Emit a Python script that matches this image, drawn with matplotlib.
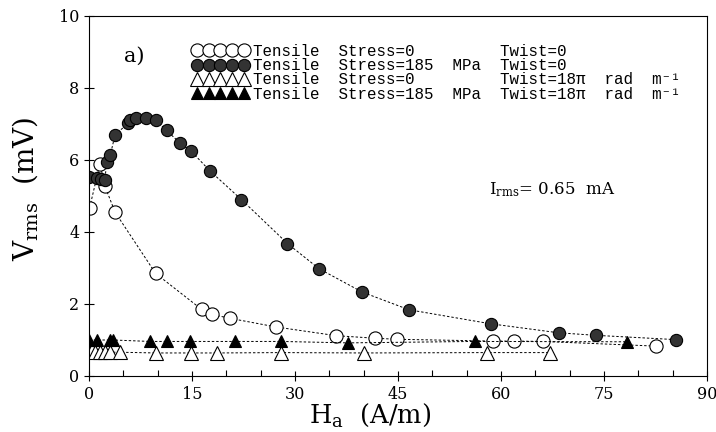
import numpy as np
import matplotlib
matplotlib.use("Agg")
import matplotlib.pyplot as plt
from matplotlib.lines import Line2D
from matplotlib.ticker import MultipleLocator

plt.rcParams['font.family'] = 'DejaVu Serif'
plt.rcParams['mathtext.fontset'] = 'dejavuserif'

# Tensile stress = 0, twist = 0 (open circles)
h_open_circ = [0.1, 1.6, 2.3, 3.8, 9.7, 16.4, 17.9, 20.6, 27.3, 36.0, 41.6, 44.8, 58.8, 61.9, 66.1, 82.6]
v_open_circ = [4.68, 5.9, 5.28, 4.55, 2.85, 1.85, 1.71, 1.6, 1.36, 1.12, 1.05, 1.02, 0.97, 0.97, 0.96, 0.83]

# Tensile stress = 185 MPa, twist = 0 (filled circles)
h_fill_circ = [0.05, 1.1, 1.8, 2.3, 2.6, 3.1, 3.8, 5.7, 6.0, 6.9, 8.3, 9.75, 11.3, 13.2, 14.9,
               17.6, 22.2, 28.9, 33.5, 39.8, 46.6, 58.5, 68.4, 73.8, 85.5]
v_fill_circ = [5.52, 5.5, 5.47, 5.45, 5.95, 6.14, 6.7, 7.02, 7.1, 7.18, 7.16, 7.1, 6.82, 6.48, 6.24,
               5.7, 4.9, 3.68, 2.98, 2.33, 1.84, 1.45, 1.2, 1.13, 1.01]

# Tensile stress = 0, twist = 18 pi rad/m (open triangles)
h_open_tri = [0.4, 0.9, 1.6, 2.3, 3.1, 4.5, 9.75, 14.9, 18.6, 28.0, 40.0, 57.9, 67.1]
v_open_tri = [0.72, 0.66, 0.66, 0.66, 0.66, 0.66, 0.64, 0.64, 0.64, 0.65, 0.64, 0.65, 0.65]

# Tensile stress = 185 MPa, twist = 18 pi rad/m (filled triangles)
h_fill_tri = [0.05, 1.1, 3.06, 3.5, 8.9, 11.3, 14.7, 21.3, 27.9, 37.7, 56.2, 78.3]
v_fill_tri = [1.0, 1.0, 1.0, 1.0, 0.96, 0.96, 0.96, 0.96, 0.96, 0.92, 0.96, 0.95]

legend_labels = [
    "Tensile  Stress=0         Twist=0",
    "Tensile  Stress=185  MPa  Twist=0",
    "Tensile  Stress=0         Twist=18\u03c0  rad  m\u207b\u00b9",
    "Tensile  Stress=185  MPa  Twist=18\u03c0  rad  m\u207b\u00b9",
]

fig = plt.figure(figsize=(7.16, 4.32), dpi=100)
ax = fig.add_axes([89 / 716, 56 / 432, 618 / 716, 360 / 432])

dash = (0, (2.5, 2))
lw = 0.7
styles = [
    dict(marker='o', ms=9.5, mfc='white', mec='black', mew=0.8),
    dict(marker='o', ms=8.8, mfc='0.2', mec='black', mew=0.8),
    dict(marker='^', ms=9.5, mfc='white', mec='black', mew=0.8),
    dict(marker='^', ms=9, mfc='black', mec='black', mew=0.8),
]
series = [(h_open_circ, v_open_circ), (h_fill_circ, v_fill_circ),
          (h_open_tri, v_open_tri), (h_fill_tri, v_fill_tri)]
for (h, v), st in zip(series, styles):
    ax.plot(h, v, linestyle=dash, color='black', lw=lw, **st)

ax.set_xlim(0, 90)
ax.set_ylim(0, 10)
ax.xaxis.set_major_locator(MultipleLocator(15))
ax.xaxis.set_minor_locator(MultipleLocator(5))
ax.yaxis.set_major_locator(MultipleLocator(2))
ax.tick_params(axis='both', which='major', direction='inout', length=7, width=0.8, labelsize=11.5)
ax.tick_params(axis='x', which='minor', direction='in', length=4, width=0.8)
for s in ax.spines.values():
    s.set_linewidth(0.8)

ax.set_xlabel(r"H$_{\mathrm{a}}$  (A/m)", fontsize=18.5)
ax.xaxis.set_label_coords((370 - 89) / 618, -(415 - 376) / 360)
ax.xaxis.label.set_va('center')
ax.set_ylabel(r"V$_{\mathrm{rms}}$  (mV)", fontsize=20)
ax.yaxis.set_label_coords(-(89 - 25) / 618, (376 - 189) / 360)
ax.yaxis.label.set_va('center')

handles = [Line2D([], [], ls='none', **st) for st in styles]
leg = fig.legend(handles, legend_labels, loc='upper left',
                 bbox_to_anchor=(192 / 716, 1 - 44 / 432),
                 numpoints=5, handlelength=3.58, handletextpad=0.27, labelspacing=-0.05,
                 frameon=False, borderpad=0, borderaxespad=0,
                 prop={'family': ['Liberation Mono', 'DejaVu Sans Mono'], 'size': 11.4})

ax.text((134 - 89) / 618, (376 - 56) / 360, "a)", transform=ax.transAxes,
        fontsize=15, va='center', ha='center')
ax.text(58.2, 5.17, r"I$_{\mathrm{rms}}$= 0.65  mA", fontsize=12, va='center')

fig.savefig("out.png", dpi=100)
